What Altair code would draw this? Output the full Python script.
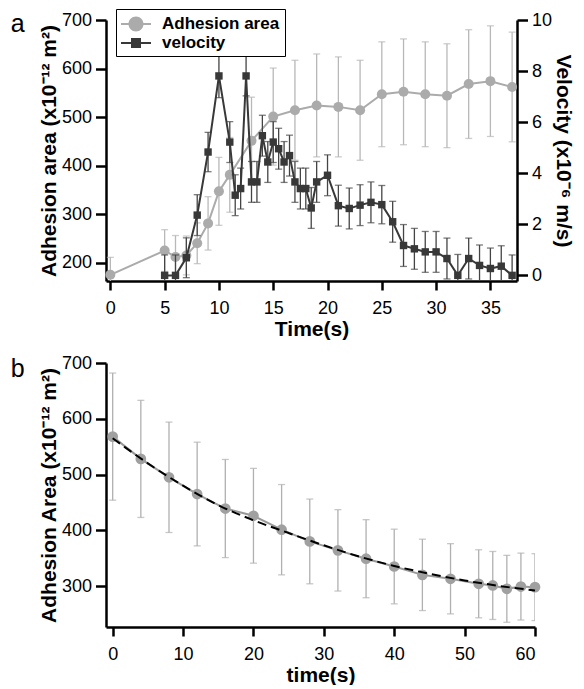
import altair as alt
import pandas as pd

# ---------------- data ----------------
# Panel a: adhesion area (x10^-12 m^2) against time (s)
adh_time = [0, 5, 6, 7, 8, 9, 10, 11, 13, 15, 17, 19, 21, 23, 25, 27, 29, 31, 33, 35, 37]
adh_area = [175, 225, 212, 215, 240, 281, 347, 381, 451, 501, 514, 524, 521, 514, 547, 552, 547, 544, 568, 574, 562]
adh_err = [36, 43, 44, 40, 42, 55, 70, 77, 90, 100, 103, 106, 103, 103, 108, 109, 108, 107, 112, 114, 113]

# Panel a: velocity (x10^-6 m/s) against time (s)
vel_time = [5, 6, 7, 8, 9, 10, 11, 11.5, 12, 12.5, 13, 13.5, 14, 14.5, 15, 15.5, 16, 16.5,
            17, 17.5, 18, 18.5, 19, 20, 21, 22, 23, 24, 25, 26, 27, 28, 29, 30, 31, 32,
            33, 34, 35, 36, 37]
vel_value = [0, 0, 0.69, 2.36, 4.83, 7.81, 5.22, 3.14, 3.40, 7.81, 3.66, 3.66, 5.47, 4.44,
             5.22, 4.96, 4.44, 4.69, 3.66, 3.40, 3.40, 2.64, 3.66, 3.92, 2.73, 2.62, 2.75,
             2.86, 2.77, 2.10, 1.17, 1.04, 0.92, 0.92, 0.66, 0, 0.66, 0.39, 0.27, 0.36, 0]
vel_err = [0.8, 0.8, 0.78, 0.8, 0.77, 0.85, 0.8, 0.8, 0.8, 0.78, 0.8, 0.8, 0.8, 0.8,
           0.8, 0.8, 0.8, 0.8, 0.8, 0.8, 0.8, 0.8, 0.8, 0.8, 0.8, 0.8, 0.8,
           0.8, 0.75, 0.8, 0.82, 0.8, 0.8, 0.8, 0.8, 0.82, 0.8, 0.8, 0.8, 0.8, 0.8]

# Panel b: adhesion area (x10^-12 m^2) against time (s), with a fitted curve
b_time = [0, 4, 8, 12, 16, 20, 24, 28, 32, 36, 40, 44, 48, 52, 54, 56, 58, 60]
b_area = [568, 528, 495, 465, 439, 426, 401, 380, 364, 349, 335, 320, 313, 304, 301, 295, 299, 298]
b_err = [114, 105, 99, 93, 88, 85, 81, 76, 73, 70, 67, 64, 63, 61, 61, 60, 60, 60]
fit_time = [0, 5, 10, 15, 20, 25, 30, 35, 40, 45, 50, 55, 60]
fit_area = [565, 520, 480, 445, 418, 395, 373, 353, 336, 322, 310, 300, 292]

series_names = ["Adhesion area", "velocity"]

# ---------------- styling ----------------
FONT = "Liberation Sans"
LIGHT = "#ababab"
LIGHT_ERR = "#b8b8b8"
DARK = "#383838"
DARK_ERR = "#444444"
B_POINT = "#a0a0a0"
B_LINE = "#999999"
B_ERR = "#b0b0b0"

# legend symbols: a short line with the marker on it (unit coordinates, scale 10 px)
CIRCLE_SYM = "M-1,-0.1H2V0.1H-1Z M1.25,0A0.75,0.75 0 1,1 -0.25,0A0.75,0.75 0 1,1 1.25,0Z"
SQUARE_SYM = "M-1,-0.1H2V0.1H-1Z M0,-0.5H1V0.5H0Z"


def with_bounds(t, v, e):
    df = pd.DataFrame({"t": t, "v": v, "e": e})
    df["lo"] = df["v"] - df["e"]
    df["hi"] = df["v"] + df["e"]
    return df


adh = with_bounds(adh_time, adh_area, adh_err)
vel = with_bounds(vel_time, vel_value, vel_err)
bdf = with_bounds(b_time, b_area, b_err)
fit = pd.DataFrame({"t": fit_time, "v": fit_area})
leg = pd.DataFrame({"series": series_names})

# ---------------- panel a ----------------
xa_scale = alt.Scale(domain=[-0.4, 37.45], nice=False, zero=False)
xa_axis = alt.Axis(values=[0, 5, 10, 15, 20, 25, 30, 35], title="Time(s)",
                   tickSize=9, labelPadding=9, titlePadding=1)


def XA():
    return alt.X("t:Q", scale=xa_scale, axis=xa_axis)


ya_scale = alt.Scale(domain=[162.3, 700], nice=False, zero=False)
ya_axis = alt.Axis(values=[200, 300, 400, 500, 600, 700],
                   title="Adhesion area (x10⁻¹² m²)", orient="left",
                   tickSize=10.5, labelPadding=4, titlePadding=2)

yv_scale = alt.Scale(domain=[-0.22, 10], nice=False, zero=False)
yv_axis = alt.Axis(values=[0, 2, 4, 6, 8, 10], title="Velocity (x10⁻⁶ m/s)",
                   orient="right", tickSize=10.5, labelPadding=4, titlePadding=1)


def series_layers(df, yscale, yaxis, line_color, err_color, point_mark):
    base = alt.Chart(df)
    rule = base.mark_rule(color=err_color, strokeWidth=1.3, clip=True).encode(
        x=XA(), y=alt.Y("lo:Q", scale=yscale, axis=yaxis), y2="hi:Q")
    cap_hi = base.mark_tick(color=err_color, orient="horizontal", size=7,
                            thickness=1.3, clip=True).encode(
        x=XA(), y=alt.Y("hi:Q", scale=yscale, axis=yaxis))
    cap_lo = base.mark_tick(color=err_color, orient="horizontal", size=7,
                            thickness=1.3, clip=True).encode(
        x=XA(), y=alt.Y("lo:Q", scale=yscale, axis=yaxis))
    line = base.mark_line(color=line_color, strokeWidth=2).encode(
        x=XA(), y=alt.Y("v:Q", scale=yscale, axis=yaxis))
    pts = point_mark(base).encode(x=XA(), y=alt.Y("v:Q", scale=yscale, axis=yaxis))
    return [rule, cap_hi, cap_lo, line, pts]


legend_spec = alt.Legend(
    title=None, orient="none", legendX=10, legendY=-11, direction="vertical",
    strokeColor="black", fillColor="white", padding=5, rowPadding=1,
    labelFont=FONT, labelFontSize=17, labelFontWeight="bold", labelColor="black",
    labelOffset=21, symbolSize=400, symbolStrokeWidth=0, symbolOpacity=1)

legend_layer = alt.Chart(leg).mark_point(filled=True, opacity=0).encode(
    color=alt.Color("series:N", scale=alt.Scale(domain=series_names, range=[LIGHT, DARK]),
                    legend=legend_spec),
    shape=alt.Shape("series:N", scale=alt.Scale(domain=series_names,
                                                range=[CIRCLE_SYM, SQUARE_SYM]),
                    legend=legend_spec),
)

adh_group = alt.layer(
    *series_layers(adh, ya_scale, ya_axis, LIGHT, LIGHT_ERR,
                   lambda b: b.mark_circle(color=LIGHT, size=100, opacity=1)),
    legend_layer,
)
vel_group = alt.layer(
    *series_layers(vel, yv_scale, yv_axis, DARK, DARK_ERR,
                   lambda b: b.mark_point(shape="square", filled=True, color=DARK,
                                          size=55, opacity=1)),
)

panel_a = alt.layer(adh_group, vel_group).resolve_scale(y="independent").properties(
    width=411, height=261,
    title=alt.TitleParams("a", orient="left", anchor="end", frame="group", angle=0,
                          align="right", baseline="top", fontSize=25,
                          fontWeight="normal", font=FONT, color="black", offset=0, dy=-8),
)

# ---------------- panel b ----------------
xb_scale = alt.Scale(domain=[-0.95, 60], nice=False, zero=False)
xb_axis = alt.Axis(values=[0, 10, 20, 30, 40, 50, 60], title="time(s)",
                   tickSize=9, labelPadding=9, titlePadding=1)
yb_scale = alt.Scale(domain=[226.5, 700], nice=False, zero=False)
yb_axis = alt.Axis(values=[300, 400, 500, 600, 700], title="Adhesion Area (x10⁻¹² m²)",
                   tickSize=10.5, labelPadding=4, titlePadding=2)


def XB():
    return alt.X("t:Q", scale=xb_scale, axis=xb_axis)


bbase = alt.Chart(bdf)
b_rule = bbase.mark_rule(color=B_ERR, strokeWidth=1.3, clip=True).encode(
    x=XB(), y=alt.Y("lo:Q", scale=yb_scale, axis=yb_axis), y2="hi:Q")
b_cap_hi = bbase.mark_tick(color=B_ERR, orient="horizontal", size=7, thickness=1.3,
                           clip=True).encode(x=XB(), y=alt.Y("hi:Q", scale=yb_scale, axis=yb_axis))
b_cap_lo = bbase.mark_tick(color=B_ERR, orient="horizontal", size=7, thickness=1.3,
                           clip=True).encode(x=XB(), y=alt.Y("lo:Q", scale=yb_scale, axis=yb_axis))
b_line = bbase.mark_line(color=B_LINE, strokeWidth=2).encode(
    x=XB(), y=alt.Y("v:Q", scale=yb_scale, axis=yb_axis))
b_pts = bbase.mark_circle(color=B_POINT, size=115, opacity=1).encode(
    x=XB(), y=alt.Y("v:Q", scale=yb_scale, axis=yb_axis))
b_fit = alt.Chart(fit).mark_line(color="black", strokeWidth=2, strokeDash=[9, 5],
                                 interpolate="monotone").encode(
    x=XB(), y=alt.Y("v:Q", scale=yb_scale, axis=yb_axis))

panel_b = alt.layer(b_rule, b_cap_hi, b_cap_lo, b_line, b_pts, b_fit).properties(
    width=429, height=264,
    title=alt.TitleParams("b", orient="left", anchor="end", frame="group", angle=0,
                          align="right", baseline="alphabetic", fontSize=25,
                          fontWeight="normal", font=FONT, color="black", offset=0, dy=14),
)

chart = alt.vconcat(panel_a, panel_b, spacing=15).properties(
    padding={"left": 2, "top": 0, "right": 2, "bottom": 0}
).configure_view(stroke=None).configure_axis(
    grid=False, domainColor="black", domainWidth=2.5, tickColor="black", tickWidth=2.5,
    labelFont=FONT, labelFontSize=18, labelColor="black",
    titleFont=FONT, titleFontSize=21, titleFontWeight="bold", titleColor="black",
)

chart.save("out.html", embed_options={"renderer": "svg", "actions": False})
